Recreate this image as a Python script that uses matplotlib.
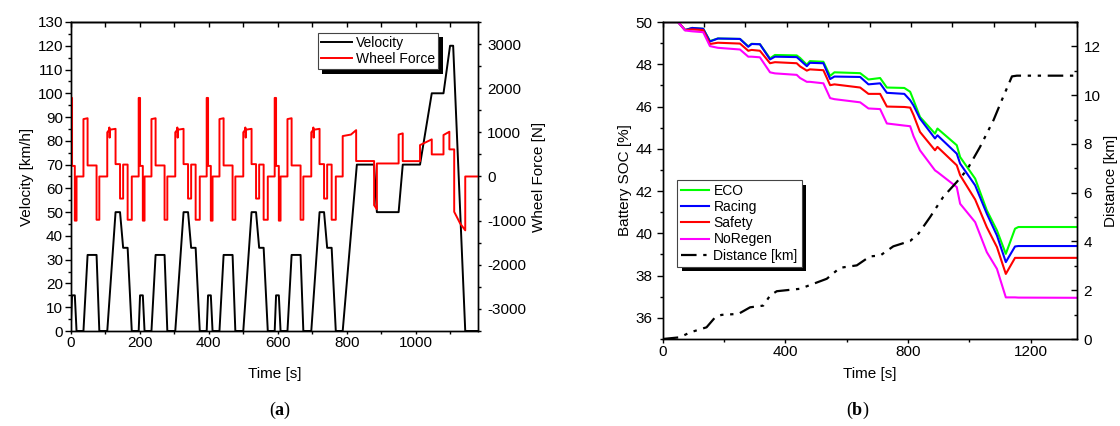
import matplotlib.pyplot as plt
from matplotlib.patches import Rectangle
from matplotlib.transforms import IdentityTransform
from matplotlib.ticker import MultipleLocator

plt.rcParams['font.family'] = ['Liberation Sans', 'DejaVu Sans']
plt.rcParams['font.size'] = 11
plt.rcParams['axes.unicode_minus'] = False
plt.rcParams['mathtext.fontset'] = 'custom'
plt.rcParams['mathtext.rm'] = 'Liberation Serif'
plt.rcParams['mathtext.bf'] = 'Liberation Serif:bold'

# ---------------- (a) NEDC velocity and wheel force ----------------
vel_t = [0, 4, 12, 17, 37, 49, 75, 83, 106, 130, 143, 152, 165, 177,
         197, 201, 209, 214, 234, 246, 272, 280, 303, 327, 340, 349, 362, 374,
         394, 398, 406, 411, 431, 443, 469, 477, 500, 524, 537, 546, 559, 571,
         591, 595, 603, 608, 628, 640, 666, 674, 697, 721, 734, 743, 756, 768,
         788, 829, 879, 887, 950, 962, 1012, 1046, 1080, 1099, 1108, 1143, 1180]
vel = [0, 15, 15, 0, 0, 32, 32, 0, 0, 50, 50, 35, 35, 0,
       0, 15, 15, 0, 0, 32, 32, 0, 0, 50, 50, 35, 35, 0,
       0, 15, 15, 0, 0, 32, 32, 0, 0, 50, 50, 35, 35, 0,
       0, 15, 15, 0, 0, 32, 32, 0, 0, 50, 50, 35, 35, 0,
       0, 70, 70, 50, 50, 70, 70, 100, 100, 120, 120, 0, 0]

force_t = [0, 0, 4, 4, 12, 12, 17, 17, 37, 37, 49, 49, 75, 75, 83, 83, 106, 106, 111, 112, 113, 114, 130, 130, 143, 143, 152, 152, 165, 165, 177, 177,
           197, 197, 201, 201, 209, 209, 214, 214, 234, 234, 246, 246, 272, 272, 280, 280, 303, 303, 308, 309, 310, 311, 327, 327, 340, 340, 349, 349, 362, 362, 374, 374,
           394, 394, 398, 398, 406, 406, 411, 411, 431, 431, 443, 443, 469, 469, 477, 477, 500, 500, 505, 506, 507, 508, 524, 524, 537, 537, 546, 546, 559, 559, 571, 571,
           591, 591, 595, 595, 603, 603, 608, 608, 628, 628, 640, 640, 666, 666, 674, 674, 697, 697, 702, 703, 704, 705, 721, 721, 734, 734, 743, 743, 756, 756, 768, 768,
           788, 788, 812, 827, 827, 879, 879, 887, 887, 950, 950, 962, 962, 1012, 1012, 1046, 1046, 1080, 1080, 1097, 1097, 1111, 1111, 1128, 1143, 1143, 1180]
force = [0, 1780, 1780, 240, 240, -1000, -1000, 0, 0, 1300, 1320, 250, 250, -980, -980, 0, 0, 1000, 1050, 1110, 880, 1060, 1080, 280, 280, -500, -500, 270, 270, -980, -980, 0,
         0, 1780, 1780, 240, 240, -1000, -1000, 0, 0, 1300, 1320, 250, 250, -980, -980, 0, 0, 1000, 1050, 1110, 880, 1060, 1080, 280, 280, -500, -500, 270, 270, -980, -980, 0,
         0, 1780, 1780, 240, 240, -1000, -1000, 0, 0, 1300, 1320, 250, 250, -980, -980, 0, 0, 1000, 1050, 1110, 880, 1060, 1080, 280, 280, -500, -500, 270, 270, -980, -980, 0,
         0, 1780, 1780, 240, 240, -1000, -1000, 0, 0, 1300, 1320, 250, 250, -980, -980, 0, 0, 1000, 1050, 1110, 880, 1060, 1080, 280, 280, -500, -500, 270, 270, -980, -980, 0,
         0, 916, 950, 1050, 350, 350, -650, -740, 295, 295, 950, 977, 348, 348, 711, 841, 500, 500, 939, 1014, 614, 614, -800, -1060, -1220, 0, 0]

# ---------------- (b) battery SOC and distance ----------------
soc_t = [0, 50, 73, 96, 132, 154, 180, 252, 279, 290, 317, 350, 366, 437, 448, 470, 480, 524, 546, 560,
         644, 671, 709, 731, 788, 807, 818, 839, 888, 896, 959, 970, 1019, 1057, 1090, 1119, 1149, 1160, 1350]
soc_eco = [50, 50, 49.62, 49.72, 49.68, 49.10, 49.22, 49.20, 48.85, 48.97, 48.95, 48.28, 48.44, 48.42, 48.30, 47.98, 48.15, 48.12, 47.45, 47.62,
           47.58, 47.28, 47.35, 46.90, 46.88, 46.70, 46.30, 45.51, 44.72, 44.96, 44.17, 43.61, 42.59, 41.09, 40.14, 39.03, 40.22, 40.30, 40.30]
soc_racing = [50, 50, 49.62, 49.72, 49.68, 49.08, 49.22, 49.20, 48.83, 48.96, 48.95, 48.23, 48.36, 48.34, 48.20, 47.91, 48.07, 48.05, 47.30, 47.42,
              47.40, 47.05, 47.10, 46.65, 46.60, 46.30, 46.05, 45.43, 44.49, 44.64, 43.77, 43.30, 42.27, 40.93, 39.90, 38.64, 39.38, 39.40, 39.40]
soc_safety = [50, 50, 49.62, 49.65, 49.62, 48.96, 49.02, 48.98, 48.64, 48.68, 48.64, 48.05, 48.10, 48.05, 47.90, 47.70, 47.76, 47.72, 47.01, 47.05,
              46.90, 46.60, 46.60, 46.00, 45.98, 45.95, 45.60, 44.80, 43.93, 44.09, 43.22, 42.75, 41.60, 40.29, 39.35, 38.08, 38.84, 38.84, 38.84]
soc_noregen = [50, 50, 49.60, 49.56, 49.52, 48.86, 48.78, 48.70, 48.36, 48.36, 48.33, 47.62, 47.57, 47.50, 47.35, 47.17, 47.17, 47.10, 46.40, 46.35,
               46.20, 45.91, 45.88, 45.20, 45.10, 45.07, 44.60, 43.93, 42.98, 42.90, 42.19, 41.40, 40.53, 39.11, 38.32, 36.97, 36.97, 36.96, 36.95]

dist_t = [0, 56, 89, 143, 171, 192, 247, 285, 328, 350, 372, 448, 535, 578, 633, 676, 709, 752, 807,
          834, 872, 915, 959, 992, 1035, 1079, 1106, 1139, 1155, 1350]
dist = [0, 0.07, 0.27, 0.48, 0.89, 0.99, 1.03, 1.30, 1.37, 1.78, 1.96, 2.06, 2.47, 2.92, 3.02, 3.39, 3.42, 3.80, 4.02,
        4.32, 5.00, 5.83, 6.44, 6.93, 7.88, 8.98, 9.80, 10.77, 10.80, 10.80]

fig = plt.figure(figsize=(11.2, 4.26), dpi=100)


def add_shadow(ax, leg, off=4.5):
    fig.canvas.draw()
    bb = leg.get_frame().get_window_extent()
    ax.add_patch(Rectangle((bb.x0 + off, bb.y0 - off), bb.width, bb.height,
                           transform=IdentityTransform(), facecolor='black',
                           edgecolor='none', zorder=4.5, clip_on=False))


def top_ticks(ax, ticks):
    sec = ax.secondary_xaxis('top')
    sec.set_xticks(ticks)
    sec.tick_params(direction='in', length=3.5, width=1, labeltop=False)
    sec.spines['top'].set_linewidth(1)


# ---- panel (a)
ax1 = fig.add_axes([0.0631, 0.223, 0.3637, 0.7254])
ax2 = ax1.twinx()
ax1.plot(vel_t, vel, color='black', lw=1.4, label='Velocity')
ax2.plot(force_t, force, color='red', lw=1.4, label='Wheel Force')
ax1.set_xlim(0, 1180)
ax1.set_ylim(0, 130)
ax2.set_ylim(-3500, 3500)
ax1.xaxis.set_major_locator(MultipleLocator(200))
ax1.xaxis.set_minor_locator(MultipleLocator(100))
ax1.yaxis.set_major_locator(MultipleLocator(10))
ax1.yaxis.set_minor_locator(MultipleLocator(5))
ax2.yaxis.set_major_locator(MultipleLocator(1000))
ax2.yaxis.set_minor_locator(MultipleLocator(500))
ax1.tick_params(axis='y', which='major', direction='out', length=4, width=1, pad=1.5)
ax1.tick_params(axis='y', which='minor', direction='out', length=2.2, width=1)
ax1.tick_params(axis='x', which='major', direction='out', length=2.5, width=1, pad=1)
ax1.tick_params(axis='x', which='minor', direction='out', length=1.8, width=1)
ax2.tick_params(axis='y', which='major', direction='out', length=2.5, width=1, pad=4)
ax2.tick_params(axis='y', which='minor', direction='out', length=1.8, width=1)
for a in (ax1, ax2):
    for s in a.spines.values():
        s.set_linewidth(1)
top_ticks(ax1, list(range(0, 1181, 100)))
ax1.set_xlabel('Time [s]', labelpad=12)
ax1.set_ylabel('Velocity [km/h]', labelpad=2.5)
ax2.set_ylabel('Wheel Force [N]', labelpad=4.5)
h1, l1 = ax1.get_legend_handles_labels()
h2, l2 = ax2.get_legend_handles_labels()
leg_a = ax2.legend(h1 + h2, l1 + l2, loc='upper right', bbox_to_anchor=(0.9025, 0.9654),
                   borderaxespad=0, fontsize=10, fancybox=False, framealpha=1,
                   edgecolor='#444444', handlelength=2.2, handletextpad=0.3,
                   labelspacing=0.1, borderpad=0.25)
leg_a.get_frame().set_linewidth(0.8)
leg_a.set_zorder(5)

# ---- panel (b)
bx1 = fig.add_axes([0.5917, 0.2042, 0.3696, 0.7441])
bx2 = bx1.twinx()
bx1.plot(soc_t, soc_eco, color='#00ff00', lw=1.5, label='ECO')
bx1.plot(soc_t, soc_racing, color='#0000ff', lw=1.5, label='Racing')
bx1.plot(soc_t, soc_safety, color='#ff0000', lw=1.5, label='Safety')
bx1.plot(soc_t, soc_noregen, color='#ff00ff', lw=1.5, label='NoRegen')
bx2.plot(dist_t, dist, color='black', lw=1.6, linestyle=(0, (7, 3, 1.5, 3, 1.5, 3)),
         label='Distance [km]')
bx1.set_xlim(0, 1350)
bx1.set_ylim(35, 50)
bx2.set_ylim(0, 13)
bx1.xaxis.set_major_locator(MultipleLocator(400))
bx1.xaxis.set_minor_locator(MultipleLocator(200))
bx1.yaxis.set_major_locator(MultipleLocator(2))
bx1.yaxis.set_minor_locator(MultipleLocator(1))
bx2.yaxis.set_major_locator(MultipleLocator(2))
bx2.yaxis.set_minor_locator(MultipleLocator(1))
bx1.tick_params(axis='y', which='major', direction='out', length=4, width=1, pad=3.5)
bx1.tick_params(axis='y', which='minor', direction='out', length=2.2, width=1)
bx1.tick_params(axis='x', which='major', direction='out', length=3, width=1, pad=1)
bx1.tick_params(axis='x', which='minor', direction='out', length=2, width=1)
bx2.tick_params(axis='y', which='major', direction='in', length=4, width=1, pad=5)
bx2.tick_params(axis='y', which='minor', direction='in', length=2.2, width=1)
for a in (bx1, bx2):
    for s in a.spines.values():
        s.set_linewidth(1)
top_ticks(bx1, [0, 135, 270, 405, 540, 675, 810, 945, 1080, 1215, 1350])
bx1.set_xlabel('Time [s]', labelpad=6)
bx1.set_ylabel('Battery SOC [%]', labelpad=2.5)
bx2.set_ylabel('Distance [km]', labelpad=2.5)
g1, m1 = bx1.get_legend_handles_labels()
g2, m2 = bx2.get_legend_handles_labels()
leg_b = bx2.legend(g1 + g2, m1 + m2, loc='upper left', bbox_to_anchor=(0.0353, 0.5016),
                   borderaxespad=0, fontsize=10, fancybox=False, framealpha=1,
                   edgecolor='#444444', handlelength=2.0, handletextpad=0.3,
                   labelspacing=0.15, borderpad=0.3)
leg_b.get_frame().set_linewidth(0.8)
leg_b.set_zorder(5)

add_shadow(ax2, leg_a)
add_shadow(bx2, leg_b)

fig.text(0.250, 0.0376, r'($\mathbf{a}$)', fontsize=13, family='Liberation Serif',
         ha='center', va='center')
fig.text(0.766, 0.0376, r'($\mathbf{b}$)', fontsize=13, family='Liberation Serif',
         ha='center', va='center')

fig.savefig('out.png', dpi=100)
